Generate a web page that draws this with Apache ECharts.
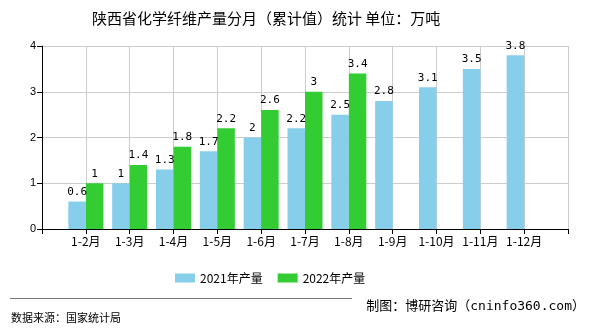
<!DOCTYPE html>
<html><head><meta charset="utf-8">
<script src="https://cdn.jsdelivr.net/npm/echarts@6/dist/echarts.min.js"></script>
<style>html,body{margin:0;padding:0;background:#fff}#c{width:590px;height:330px}</style>
</head><body><div id="c"></div>
<script>
const categories = ['', '1-2月', '1-3月', '1-4月', '1-5月', '1-6月', '1-7月', '1-8月', '1-9月', '1-10月', '1-11月', '1-12月', ''];
const values2021 = [null, 0.6, 1, 1.3, 1.7, 2, 2.2, 2.5, 2.8, 3.1, 3.5, 3.8, null];
const values2022 = [null, 1, 1.4, 1.8, 2.2, 2.6, 3, 3.4, null, null, null, null, null];
const yTicks = [0, 1, 2, 3, 4];

const chart = echarts.init(document.getElementById('c'), null, {renderer: 'canvas'});
const labelStyle = {show: true, position: 'top', color: '#000', fontSize: 11, fontFamily: 'DejaVu Sans Mono', distance: 4};
chart.setOption({
  animation: false,
  title: {
    text: '陕西省化学纤维产量分月（累计值）统计 单位：万吨',
    left: 87, top: 6,
    textStyle: {fontSize: 15, fontWeight: 'normal', color: '#000', fontFamily: 'Noto Sans CJK SC'}
  },
  legend: {
    data: ['2021年产量', '2022年产量'],
    left: 170, top: 267, itemWidth: 20, itemHeight: 9, itemGap: 15,
    icon: 'rect',
    textStyle: {fontSize: 12, color: '#000', fontFamily: 'Noto Sans CJK SC'}
  },
  grid: {left: 42, right: 22, top: 46, bottom: 101},
  xAxis: {
    type: 'category', data: categories, boundaryGap: false,
    axisLine: {lineStyle: {color: '#000'}},
    axisTick: {show: true, alignWithLabel: true, lineStyle: {color: '#000'}},
    axisLabel: {color: '#000', fontSize: 12, interval: 0, margin: 6, fontFamily: 'Noto Sans CJK SC'},
    splitLine: {show: true, lineStyle: {color: '#ccc'}}
  },
  yAxis: {
    type: 'value', min: yTicks[0], max: yTicks[yTicks.length - 1], interval: 1,
    axisLine: {show: true, lineStyle: {color: '#000'}},
    axisTick: {show: true, lineStyle: {color: '#000'}},
    axisLabel: {color: '#000', fontSize: 11, margin: 6},
    splitLine: {show: true, lineStyle: {color: '#ccc'}}
  },
  series: [
    {name: '2021年产量', type: 'bar', data: values2021, barWidth: 17.5, barGap: '0%',
     itemStyle: {color: '#87CEEB'}, label: labelStyle},
    {name: '2022年产量', type: 'bar', data: values2022, barWidth: 17.5, barGap: '0%',
     itemStyle: {color: '#33CC33'}, label: labelStyle}
  ],
  graphic: [
    {type: 'line', shape: {x1: 10, y1: 298.5, x2: 352, y2: 298.5}, style: {stroke: '#777', lineWidth: 1}},
    {type: 'text', left: 11, top: 312, style: {text: '数据来源：国家统计局', fill: '#000', font: '11px "Noto Sans CJK SC"'}},
    {type: 'text', right: 5, top: 300, style: {text: '制图：博研咨询（cninfo360.com）', fill: '#000', font: '13px "DejaVu Sans Mono", "Noto Sans CJK SC"'}}
  ]
});
</script></body></html>
